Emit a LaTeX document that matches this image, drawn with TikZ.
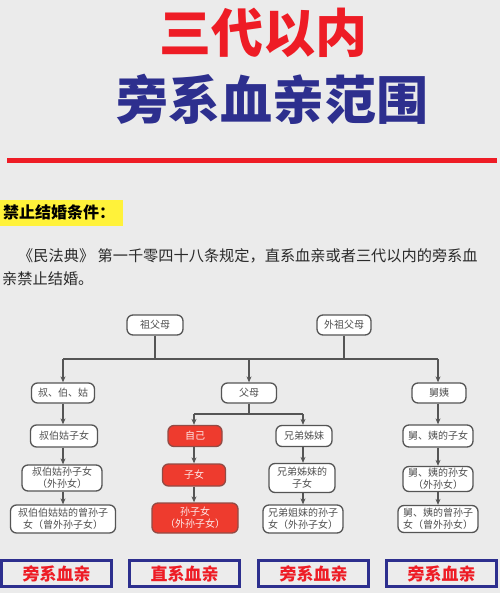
\documentclass[tikz,border=0pt]{standalone}
\usepackage{fontspec}
\setmainfont{Noto Sans CJK SC}
\usetikzlibrary{arrows.meta}
\definecolor{bg}{HTML}{EBEBEB}
\definecolor{titlered}{HTML}{EE1C25}
\definecolor{navy}{HTML}{2D2F8E}
\definecolor{hiyellow}{HTML}{FFF23A}
\definecolor{boxline}{HTML}{555555}
\definecolor{boxtext}{HTML}{505050}
\definecolor{selfred}{HTML}{EE3B2E}
\definecolor{paratext}{HTML}{2A2A2A}
\tikzset{
  kin/.style={draw=boxline, line width=1.3pt, rounded corners=6pt, fill=white,
    text=boxtext, font=\fontsize{10}{12}\selectfont, align=center, inner sep=1pt},
  direct/.style={kin, fill=selfred, draw=boxline!60!selfred, text=white!90!selfred},
  conn/.style={draw=boxline, line width=1.2pt},
  arr/.style={conn, -{Stealth[length=6pt,width=5pt]}},
  tag/.style={draw=navy, line width=3pt, fill=bg!95!white, text=titlered,
    font=\fontsize{17}{20}\selectfont\bfseries, minimum width=110pt, minimum height=26pt, inner sep=0pt}
}
\begin{document}
\begin{tikzpicture}[x=1pt,y=-1pt]
\useasboundingbox (0,0) rectangle (500,593);
\fill[bg] (0,0) rectangle (500,593);
% titles
\node[anchor=base, inner sep=0, text=titlered, font=\fontsize{52}{60}\selectfont\bfseries] (t1) at (263.5,53) {三代以内};
\node[anchor=base, inner sep=0, text=navy, font=\fontsize{52}{60}\selectfont\bfseries] (t2) at (272,120) {旁系血亲范围};
\draw[titlered, line width=5pt] (7,161) -- (497,161);
% condition
\fill[hiyellow] (0,200) rectangle (123,226);
\node[anchor=base west, inner sep=0, font=\fontsize{16}{18}\selectfont\bfseries] (cond) at (3,219) {禁止结婚条件：};
\node[anchor=base west, inner sep=0, text=paratext, font=\fontsize{15.2}{18}\selectfont] (p1) at (18,261) {《民法典》 第一千零四十八条规定，直系血亲或者三代以内的旁系血};
\node[anchor=base west, inner sep=0, text=paratext, font=\fontsize{15.2}{18}\selectfont] (p2) at (2,284) {亲禁止结婚。};
% tree nodes
\node[kin, minimum width=56pt, minimum height=20pt] (zfm) at (155,325) {祖父母};
\node[kin, minimum width=54pt, minimum height=20pt] (wzfm) at (344,325) {外祖父母};
\node[kin, minimum width=63pt, minimum height=20pt] (sbg) at (63,393) {叔、伯、姑};
\node[kin, minimum width=55pt, minimum height=20pt] (fm) at (249,393) {父母};
\node[kin, minimum width=54pt, minimum height=20pt] (jy) at (439,393) {舅姨};
\node[direct, minimum width=54pt, minimum height=21pt] (zj) at (195,436) {自己};
\node[kin, minimum width=56pt, minimum height=21pt] (xd) at (304,436) {兄弟姊妹};
\node[kin, minimum width=67pt, minimum height=22pt] (sz) at (64,436) {叔伯姑子女};
\node[kin, minimum width=70pt, minimum height=22pt] (jz) at (438,436) {舅、姨的子女};
\node[direct, minimum width=63pt, minimum height=22pt] (zn) at (194,475) {子女};
\node[kin, minimum width=66pt, minimum height=29pt] (xdz) at (302,478) {兄弟姊妹的\\子女};
\node[kin, minimum width=80pt, minimum height=26pt] (ss) at (62,478) {叔伯姑孙子女\\（外孙女）};
\node[kin, minimum width=70pt, minimum height=25pt] (js) at (438,479) {舅、姨的孙女\\（外孙女）};
\node[direct, minimum width=86pt, minimum height=30pt] (szn) at (195,518) {孙子女\\（外孙子女）};
\node[kin, minimum width=80pt, minimum height=28pt] (xds) at (303,519) {兄弟姐妹的孙子\\女（外孙子女）};
\node[kin, minimum width=105pt, minimum height=28pt] (scs) at (63,519) {叔伯伯姑姑的曾孙子\\女（曾外孙子女）};
\node[kin, minimum width=80pt, minimum height=27pt] (jc) at (438,519) {舅、姨的曾孙子\\女（曾外孙女）};
% top connectors
\coordinate (hl) at (63,359);
\coordinate (hr) at (438,359);
\draw[conn] (zfm.south) -- (zfm.south |- hl);
\draw[conn] (wzfm.south) -- (wzfm.south |- hl);
\draw[conn] (hl) -- (hr);
\draw[arr] (hl) -- (hl |- sbg.north);
\draw[arr] (fm.north |- hl) -- (fm.north);
\draw[arr] (hr) -- (hr |- jy.north);
% parents split
\coordinate (fj) at (249,414);
\coordinate (fl) at (194,414);
\coordinate (fr) at (303,414);
\draw[conn] (fm.south) -- (fj);
\draw[conn] (fl) -- (fr);
\draw[arr] (fl) -- (fl |- zj.north);
\draw[arr] (fr) -- (fr |- xd.north);
% column arrows
\draw[arr] (sbg.south) -- (sbg.south |- sz.north);
\draw[arr] (sz.south -| sbg.south) -- (sbg.south |- ss.north);
\draw[arr] (ss.south -| sbg.south) -- (sbg.south |- scs.north);
\draw[arr] (zj.south -| fl) -- (fl |- zn.north);
\draw[arr] (zn.south -| fl) -- (fl |- szn.north);
\draw[arr] (xd.south -| fr) -- (fr |- xdz.north);
\draw[arr] (xdz.south -| fr) -- (fr |- xds.north);
\draw[arr] (jy.south -| hr) -- (hr |- jz.north);
\draw[arr] (jz.south -| hr) -- (hr |- js.north);
\draw[arr] (js.south -| hr) -- (hr |- jc.north);
% bottom tags
\node[tag] (b1) at (56.5,573.5) {旁系血亲};
\node[tag] (b2) at (184.5,573.5) {直系血亲};
\node[tag] (b3) at (313.5,573.5) {旁系血亲};
\node[tag] (b4) at (441.5,573.5) {旁系血亲};
\end{tikzpicture}
\end{document}
